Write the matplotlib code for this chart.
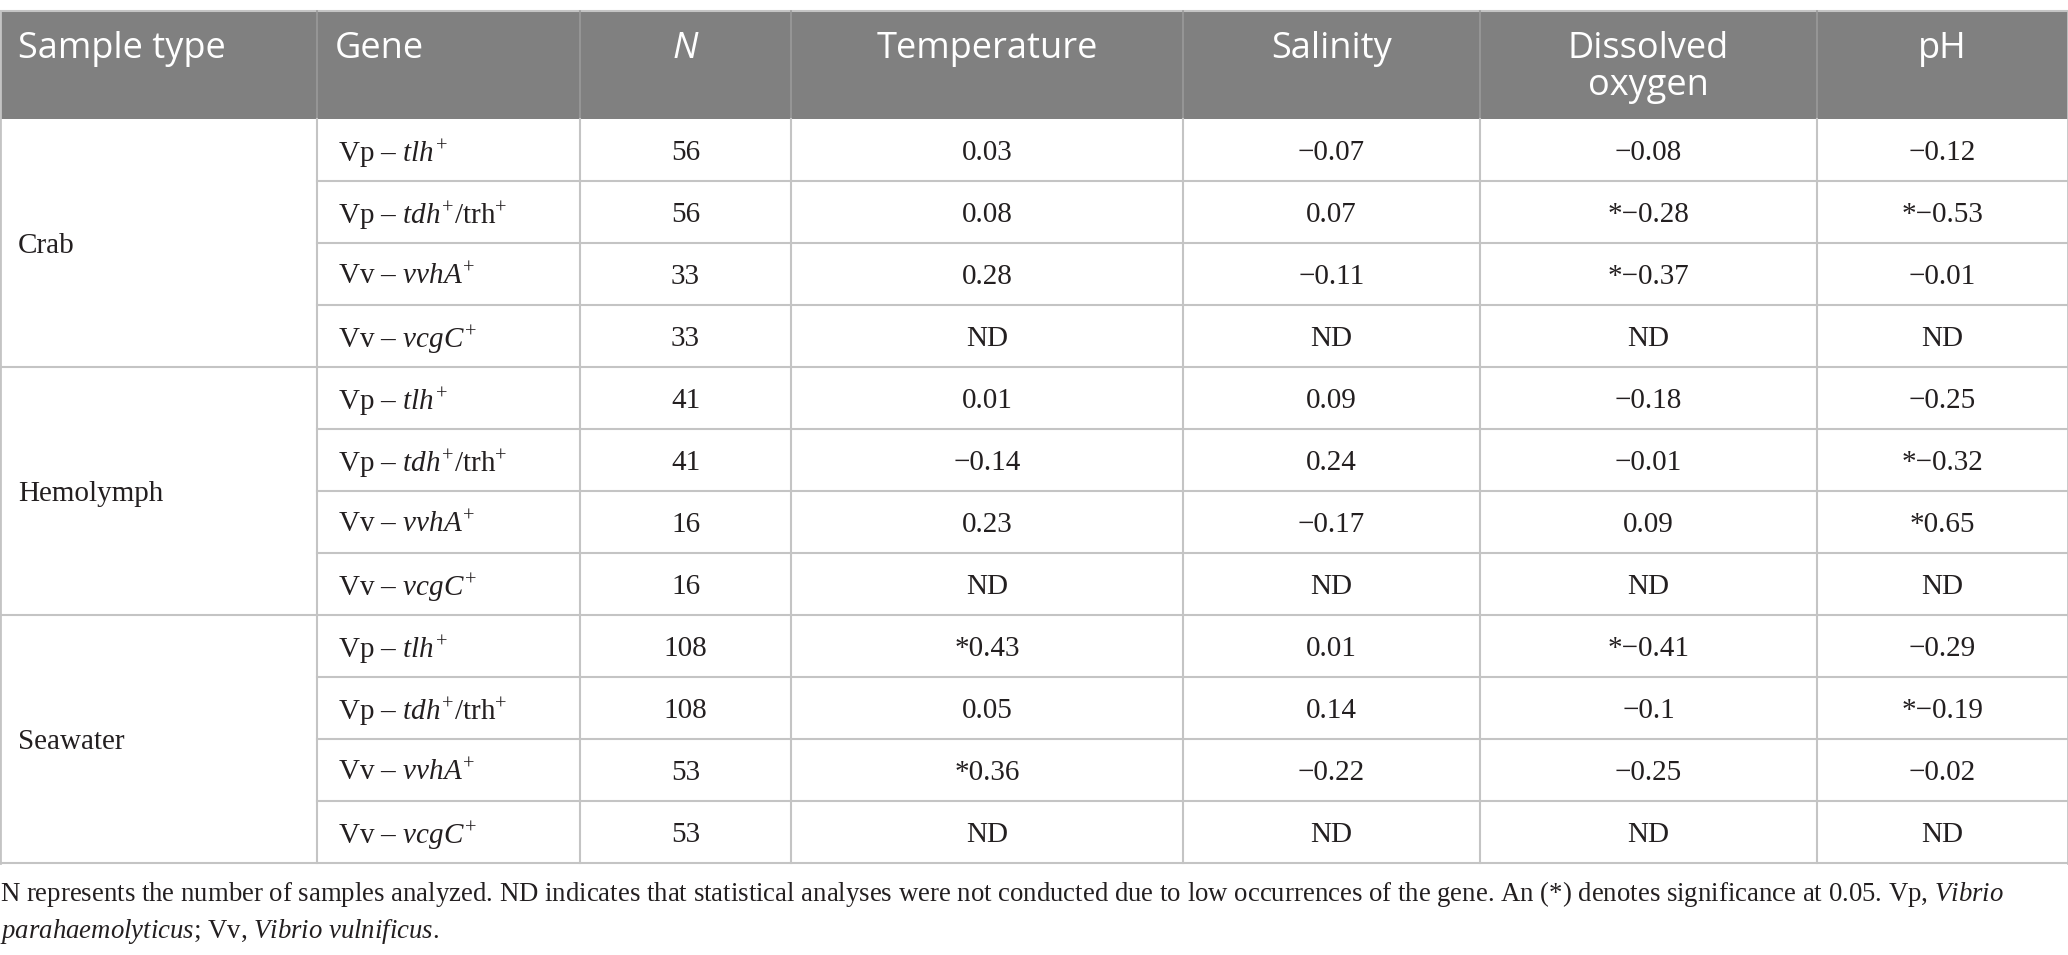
import matplotlib.pyplot as plt
from matplotlib.patches import Rectangle

plt.rcParams['mathtext.fontset'] = 'custom'
plt.rcParams['mathtext.rm'] = 'Liberation Serif'
plt.rcParams['mathtext.it'] = 'Liberation Serif:italic'

# Table content
headers = ['Sample type', 'Gene', 'N', 'Temperature', 'Salinity', 'Dissolved\noxygen', 'pH']
sample_types = ['Crab', 'Hemolymph', 'Seawater']
genes = [r'Vp – $\mathit{tlh}^{+}$',
         r'Vp – $\mathit{tdh}^{+}$/trh$^{+}$',
         r'Vv – $\mathit{vvhA}^{+}$',
         r'Vv – $\mathit{vcgC}^{+}$']
n_values = ['56', '56', '33', '33',
            '41', '41', '16', '16',
            '108', '108', '53', '53']
temperature = ['0.03', '0.08', '0.28', 'ND',
               '0.01', '−0.14', '0.23', 'ND',
               '*0.43', '0.05', '*0.36', 'ND']
salinity = ['−0.07', '0.07', '−0.11', 'ND',
            '0.09', '0.24', '−0.17', 'ND',
            '0.01', '0.14', '−0.22', 'ND']
dissolved_oxygen = ['−0.08', '*−0.28', '*−0.37', 'ND',
                    '−0.18', '−0.01', '0.09', 'ND',
                    '*−0.41', '−0.1', '−0.25', 'ND']
ph = ['−0.12', '*−0.53', '−0.01', 'ND',
      '−0.25', '*−0.32', '*0.65', 'ND',
      '−0.29', '*−0.19', '−0.02', 'ND']
footnote = [r'N represents the number of samples analyzed. ND indicates that statistical analyses were not conducted due to low occurrences of the gene. An (*) denotes significance at 0.05. Vp, $\mathit{Vibrio}$',
            r'$\mathit{parahaemolyticus}$; Vv, $\mathit{Vibrio\ vulnificus}$.']

# Layout (pixels)
W, H = 2068, 955
col_edges = [0, 317, 580, 791, 1183, 1480, 1817, 2068]
head_top, head_bot = 11, 119
row_h = 62
grid_col = '#c4c4c4'
head_col = '#808080'
ink = '#231f20'
serif = 'Liberation Serif'
sans = 'Open Sans'

fig = plt.figure(figsize=(W / 100, H / 100), dpi=100)
ax = fig.add_axes([0, 0, 1, 1])
ax.set_xlim(0, W)
ax.set_ylim(H, 0)
ax.axis('off')

# header
ax.add_patch(Rectangle((0, head_top), W, head_bot - head_top, color=head_col, lw=0))
ax.plot([0, W], [head_top, head_top], color=grid_col, lw=1.5)
for x in col_edges[1:-1]:
    ax.plot([x, x], [head_top, head_bot], color='#9a9a9a', lw=1.2)
for i, h in enumerate(headers):
    x0, x1 = col_edges[i], col_edges[i + 1]
    style = 'italic' if h == 'N' else 'normal'
    for k, line in enumerate(h.split('\n')):
        y = head_top + 38 + k * 37
        if i < 2:
            ax.text(x0 + 18, y, line, ha='left', va='center', color='white',
                    fontsize=26, family=sans, fontstyle=style)
        else:
            ax.text((x0 + x1) / 2, y, line, ha='center', va='center', color='white',
                    fontsize=26, family=sans, fontstyle=style)

# body
columns = [n_values, temperature, salinity, dissolved_oxygen, ph]
n_rows = len(n_values)
table_bot = head_bot + n_rows * row_h
for r in range(n_rows):
    yc = head_bot + (r + 0.5) * row_h
    ax.text(col_edges[1] + 21, yc, genes[r % len(genes)], ha='left',
            va='center_baseline', fontsize=21, family=serif, color=ink)
    for c, col in enumerate(columns):
        xc = (col_edges[c + 2] + col_edges[c + 3]) / 2
        ax.text(xc, yc, col[r], ha='center', va='center_baseline',
                fontsize=21, family=serif, color=ink)
    yl = head_bot + (r + 1) * row_h
    x_start = 0 if (r + 1) % len(genes) == 0 else col_edges[1]
    ax.plot([x_start, W], [yl, yl], color=grid_col, lw=1.5)

for g, name in enumerate(sample_types):
    yc = head_bot + (g * len(genes) + len(genes) / 2) * row_h
    ax.text(18, yc, name, ha='left', va='center_baseline', fontsize=21,
            family=serif, color=ink)

for x in col_edges[:-1]:
    ax.plot([x, x], [head_bot, table_bot], color=grid_col, lw=1.5)
ax.plot([0, 0], [head_top, table_bot], color=grid_col, lw=2)
ax.plot([W, W], [head_top, table_bot], color=grid_col, lw=2)

# footnote
for k, line in enumerate(footnote):
    ax.text(0, table_bot + 27 + k * 37, line, ha='left', va='center_baseline',
            fontsize=19.3, family=serif, color=ink)

fig.savefig('out.png', dpi=100)
